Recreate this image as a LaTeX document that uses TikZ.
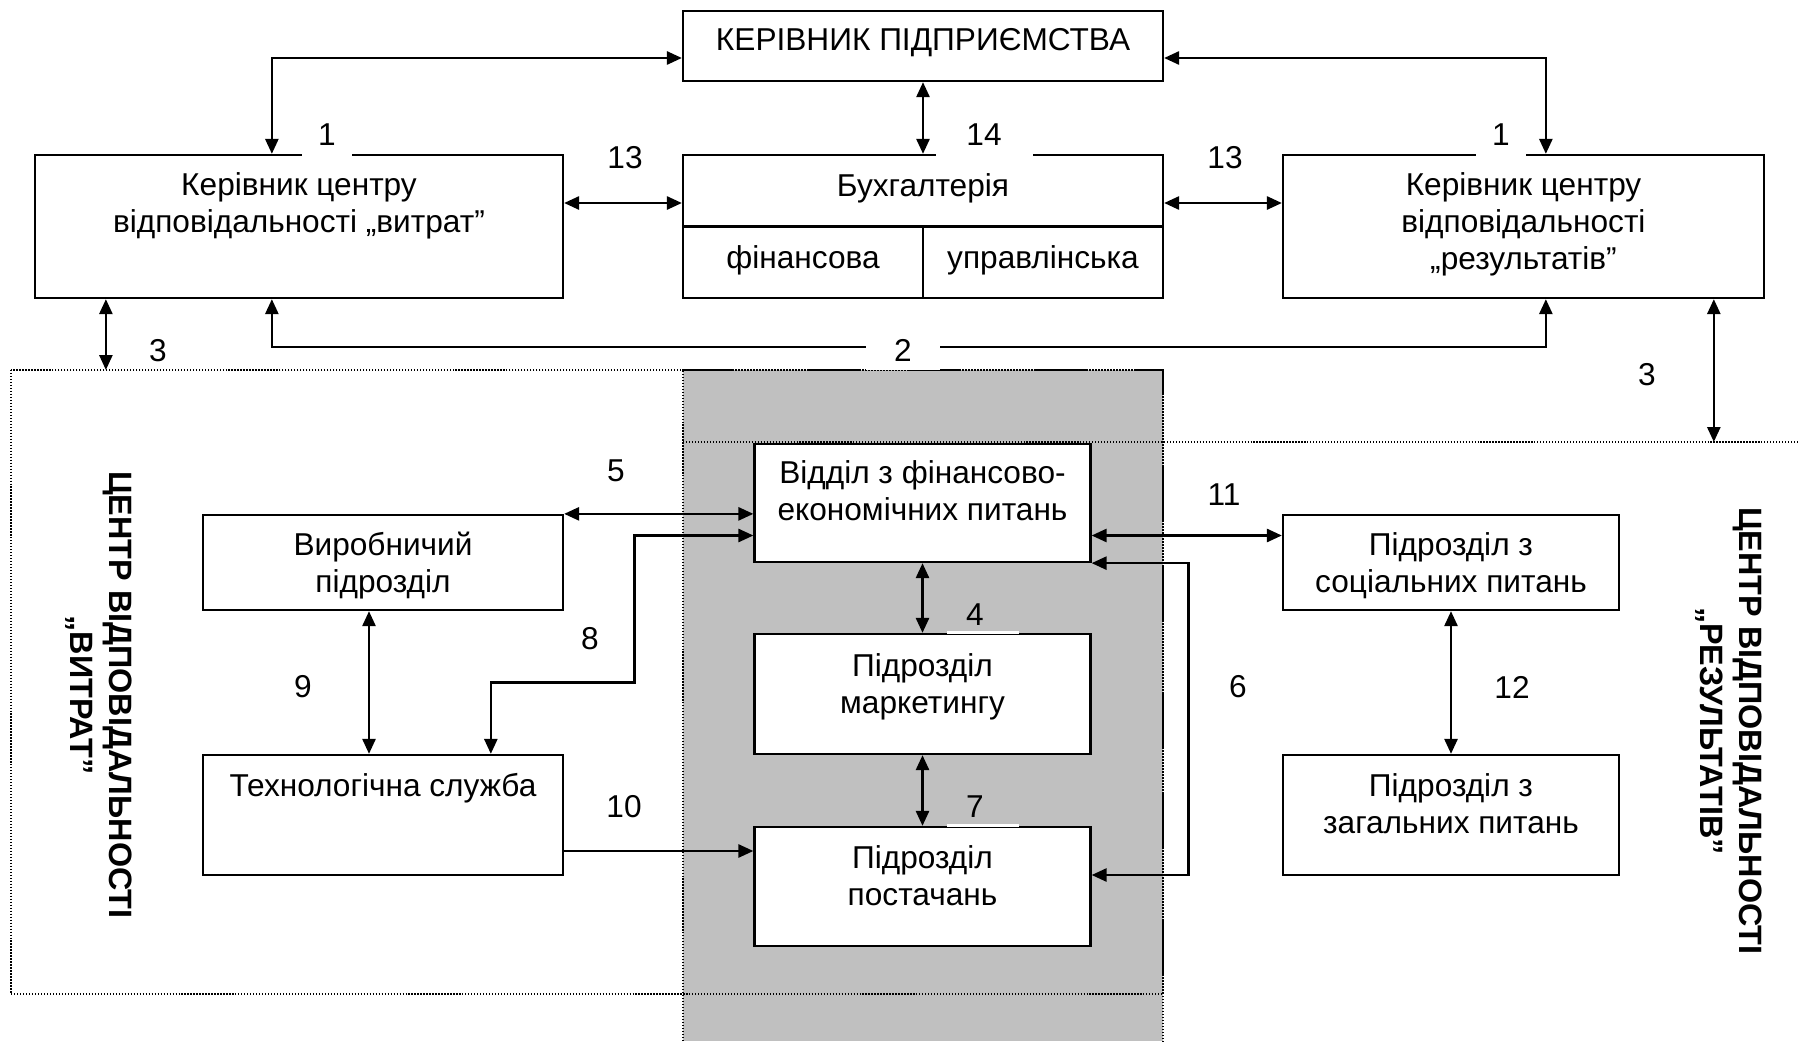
\documentclass[tikz,border=0pt]{standalone}
\usepackage{fontspec}
\setmainfont{Liberation Sans}
\usetikzlibrary{arrows.meta, positioning}
\definecolor{regiongray}{RGB}{192,192,192}

\begin{document}
\begin{tikzpicture}[x=0.02cm, y=-0.02cm,
    font=\fontsize{18}{21}\selectfont,
    box/.style={draw, line width=1.3pt, fill=white, inner sep=0pt},
    boxtxt/.style={align=center, inner sep=0pt},
    num/.style={inner sep=0pt},
    numw/.style={fill=white, inner sep=0pt},
    oneway/.style={line width=1.5pt, -{Triangle[length=0.3cm, width=0.26cm]}},
    twoway/.style={line width=1.5pt, {Triangle[length=0.3cm, width=0.26cm]}-{Triangle[length=0.3cm, width=0.26cm]}},
    zone/.style={densely dotted, line width=0.7pt},
    gapline/.style={white, line width=1.8pt},
    zonetxt/.style={rotate=-90, align=center, inner sep=0pt, font=\fontsize{18.4}{22}\selectfont\bfseries}]
    \useasboundingbox (0,0) rectangle (1798,1041);

    % Zones of responsibility
    \fill[regiongray] (683,370) rectangle (1163,1041);
    \draw[zone] (683,1041) -- (683,370) -- (1163,370) -- (1163,1041);
    \draw[zone] (11,370) rectangle (1163,994);
    \draw[zone] (683,442) -- (1798,442);
    \coordinate (costtop) at (11,370);
    \coordinate (restop) at (683,442);
    \node[zonetxt] (costlbl) at (99,695) {ЦЕНТР ВІДПОВІДАЛЬНОСТІ\\„ВИТРАТ”};
    \node[zonetxt] (reslbl) at (1729,731) {ЦЕНТР ВІДПОВІДАЛЬНОСТІ\\„РЕЗУЛЬТАТІВ”};

    % Upper level
    \node[box, minimum width=9.6cm, minimum height=1.4cm] (top) at (923,46) {};
    \node[box, minimum width=10.56cm, minimum height=2.86cm] (lc) at (299,226.5) {};
    \node[box, minimum width=9.6cm, minimum height=2.86cm] (acc) at (923,226.5) {};
    \node[box, minimum width=9.62cm, minimum height=2.86cm] (rc) at (1523.5,226.5) {};
    \draw[line width=1.3pt] (acc.west) -- (acc.east);
    \draw[line width=1.3pt] (acc.center) -- (acc.south);

    \node[boxtxt, yshift=0.06cm] (toptxt) at (top) {КЕРІВНИК ПІДПРИЄМСТВА};
    \node[boxtxt, yshift=0.41cm] (lctxt) at (lc) {Керівник центру\\відповідальності „витрат”};
    \node[boxtxt, yshift=0.77cm] (acctxt) at (acc) {Бухгалтерія};
    \node[boxtxt, xshift=-2.4cm, yshift=-0.67cm] (finacc) at (acc) {фінансова};
    \node[boxtxt, xshift=2.4cm, yshift=-0.67cm] (manacc) at (acc) {управлінська};
    \node[boxtxt, yshift=0.05cm] (rctxt) at (rc) {Керівник центру\\відповідальності\\„результатів”};

    % Lower level
    \node[box, minimum width=7.2cm, minimum height=1.9cm] (prod) at (383,562.5) {};
    \node[box, minimum width=7.2cm, minimum height=2.4cm] (tech) at (383,815) {};
    \node[box, minimum width=6.72cm, minimum height=2.36cm] (fin) at (922.5,503) {};
    \node[box, minimum width=6.72cm, minimum height=2.4cm] (mkt) at (922.5,694) {};
    \node[box, minimum width=6.72cm, minimum height=2.38cm] (sup) at (922.5,886.5) {};
    \node[box, minimum width=6.72cm, minimum height=1.9cm] (soc) at (1451,562.5) {};
    \node[box, minimum width=6.72cm, minimum height=2.4cm] (gen) at (1451,815) {};

    \node[boxtxt, yshift=-0.06cm] (prodtxt) at (prod) {Виробничий\\підрозділ};
    \node[boxtxt, yshift=0.53cm] (techtxt) at (tech) {Технологічна служба};
    \node[boxtxt, yshift=0.24cm] (fintxt) at (fin) {Відділ з фінансово-\\економічних питань};
    \node[boxtxt, yshift=0.15cm] (mkttxt) at (mkt) {Підрозділ\\маркетингу};
    \node[boxtxt, yshift=0.21cm] (suptxt) at (sup) {Підрозділ\\постачань};
    \node[boxtxt, yshift=-0.06cm] (soctxt) at (soc) {Підрозділ з\\соціальних питань};
    \node[boxtxt, yshift=0.22cm] (gentxt) at (gen) {Підрозділ з\\загальних питань};

    % Links of the upper level
    \draw[twoway] ([xshift=4.76cm]lc.north west) |- ([yshift=-0.24cm]top.west);
    \draw[twoway] ([yshift=-0.24cm]top.east) -| ([xshift=5.28cm]rc.north west);
    \draw[twoway] (top.south) -- (acc.north);
    \draw[twoway] ([yshift=0.47cm]lc.east) -- ([yshift=0.47cm]acc.west);
    \draw[twoway] ([yshift=0.47cm]acc.east) -- ([yshift=0.47cm]rc.west);
    \draw[twoway] ([xshift=4.76cm]lc.south west) -- ++(0,48) -| ([xshift=5.28cm]rc.south west);
    \draw[twoway] ([xshift=1.44cm]lc.south west) -- ([xshift=1.44cm]lc.south west |- costtop);
    \draw[twoway] ([xshift=8.64cm]rc.south west) -- ([xshift=8.64cm]rc.south west |- restop);

    % Links of the lower level
    \draw[twoway] (prod.north east) -- (prod.north east -| fin.west);
    \draw[twoway] ([yshift=-0.65cm]fin.west) -- ++(-119,0) -- ++(0,147) -| ([xshift=5.78cm]tech.north west);
    \draw[twoway] ([xshift=-0.28cm]prod.south) -- ([xshift=-0.28cm]tech.north);
    \draw[oneway] ([yshift=-0.72cm]tech.east) -- ([yshift=-0.72cm]tech.east -| sup.west);
    \draw[twoway] (fin.south) -- (mkt.north);
    \draw[twoway] (mkt.south) -- (sup.north);
    \draw[twoway] ([yshift=-0.65cm]fin.east) -- ([yshift=-0.65cm]fin.east -| soc.west);
    \draw[twoway] (fin.south east) -- ++(97,0) |- ([yshift=0.23cm]sup.east);
    \draw[twoway] (soc.south) -- (gen.north);

    % Numbers of the links
    \node[numw, minimum width=1.02cm, minimum height=0.84cm] (n1l) at (327,135) {1};
    \node[numw, minimum width=1.0cm, minimum height=0.84cm] (n1r) at (1501,135) {1};
    \node[numw, minimum width=1.94cm, minimum height=0.84cm] (n14) at (984,135) {14};
    \node[num] (n13l) at (625,158) {13};
    \node[num] (n13r) at (1225,158) {13};
    \node[numw, minimum width=1.48cm, minimum height=0.8cm] (n2) at (903,350) {2};
    \node[num] (n3l) at (158,351) {3};
    \node[num] (n3r) at (1647,375) {3};
    \node[num] (n5) at (616,471) {5};
    \node[num] (n8) at (590,639) {8};
    \node[num] (n9) at (303,687) {9};
    \node[num] (n10) at (624,807) {10};
    \draw[gapline] ([xshift=0.49cm]mkt.north) -- ++(72,0);
    \node[num] (n4) at (975,615) {4};
    \draw[gapline] ([xshift=0.49cm]sup.north) -- ++(72,0);
    \node[num] (n7) at (975,807) {7};
    \node[num] (n11) at (1224,495) {11};
    \node[num] (n6) at (1238,687) {6};
    \node[num] (n12) at (1512,687) {12};
\end{tikzpicture}
\end{document}
